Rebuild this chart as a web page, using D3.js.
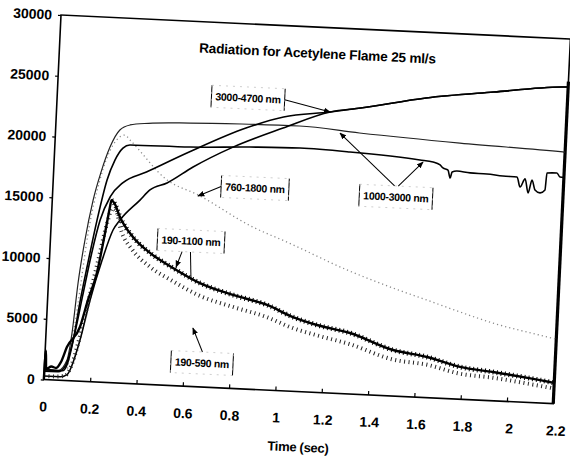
<!DOCTYPE html>
<html><head><meta charset="utf-8">
<script src="https://cdn.jsdelivr.net/npm/d3@7"></script>
<style>body{margin:0;background:#fff}svg{display:block}</style>
</head><body><svg id="c" width="570" height="464"></svg>
<script>
// ---- data (time in s, radiation) ----
const xTicks = [0,0.2,0.4,0.6,0.8,1,1.2,1.4,1.6,1.8,2,2.2];
const xTickLabels = ["0","0.2","0.4","0.6","0.8","1","1.2","1.4","1.6","1.8","2","2.2"];
const yTicks = [0,5000,10000,15000,20000,25000,30000];
const title = "Radiation for Acetylene Flame 25 ml/s";
const xTitle = "Time (sec)";

// 3000-4700 nm (two traces)
const ir3000a = [[0,700],[0.06,700],[0.09,1200],[0.12,3500],[0.15,7000],[0.18,10500],[0.21,13300],[0.25,15300],[0.30,16450],[0.40,17440],[0.58,19250],[0.82,21440],[0.98,22490],[1.18,23080],[1.31,23520],[1.59,24600],[1.88,25350],[2.17,26020],[2.2,26050]];
const ir3000b = [[0,300],[0.07,300],[0.099,500],[0.148,3400],[0.183,6700],[0.227,10040],[0.268,12550],[0.296,13400],[0.378,15110],[0.419,15980],[0.491,16620],[0.60,18030],[0.768,19820],[0.98,21580],[1.18,23080],[1.31,23520],[1.59,24600],[1.88,25350],[2.17,26020],[2.2,26050]];
// 1000-3000 nm (two traces)
const ir1000a = [[0,900],[0.06,800],[0.096,1700],[0.112,3900],[0.128,8060],[0.149,11620],[0.176,14930],[0.205,17300],[0.238,19350],[0.277,20790],[0.32,21240],[0.40,21450],[0.578,21630],[0.80,21750],[1.05,21810],[1.31,21470],[1.745,21030],[2.19,20700],[2.2,20690]];
const ir1000b = [[0,800],[0.08,800],[0.10,1500],[0.12,3500],[0.14,6500],[0.165,9600],[0.197,13300],[0.232,16640],[0.262,18300],[0.294,19315],[0.324,19600],[0.583,19660],[0.841,19890],[1.057,20000],[1.273,19870],[1.576,19490],[1.633,19370],[1.664,19160],[1.677,18920],[1.699,18770],[1.71,18120],[1.717,18620],[1.738,18720],[1.795,18620],[1.868,18600],[1.937,18490],[1.998,18470],[2.013,17650],[2.033,18340],[2.049,17200],[2.063,18280],[2.078,17470],[2.10,17250],[2.121,17510],[2.126,18910],[2.169,18950],[2.183,18630],[2.2,18600]];
// 760-1800 nm
const nir760 = [[0.10,1000],[0.13,6000],[0.16,12000],[0.20,16500],[0.25,19500],[0.30,20390],[0.323,20000],[0.49,16870],[0.627,15760],[0.87,13330],[1.02,12230],[1.284,10180],[1.486,8870],[1.635,8010],[1.78,7160],[1.924,6380],[2.16,5450],[2.2,5300]];
// 190-1100 nm
const uv1100 = [[0,0],[0.003,2400],[0.008,900],[0.03,1100],[0.05,1000],[0.07,1500],[0.093,2760],[0.145,4460],[0.174,6700],[0.207,8960],[0.234,12270],[0.25,14430],[0.255,15000],[0.27,14700],[0.295,13650],[0.355,12050],[0.432,10810],[0.534,9670],[0.653,8530],[0.798,7680],[0.947,6990],[1.061,6100],[1.166,5540],[1.31,5010],[1.499,3780],[1.647,3340],[1.791,2650],[1.934,2360],[2.18,1760],[2.2,1700]];
// 190-590 nm
const uv590 = [[0,300],[0.05,300],[0.09,400],[0.12,1500],[0.15,4000],[0.18,7000],[0.21,10000],[0.24,13000],[0.26,14300],[0.28,14000],[0.30,12700],[0.355,11000],[0.432,9700],[0.534,8600],[0.653,7500],[0.80,6700],[0.947,6000],[1.061,5200],[1.166,4700],[1.31,4100],[1.50,3000],[1.65,2700],[1.79,2100],[1.93,1900],[2.18,1300],[2.2,1250]];

// annotation labels: text, label centre (time, value), arrow targets (time, value), arrowhead flags
const notes = [
  {text:"3000-4700 nm", x:0.823, y:23910, from:[[1.0,0]], to:[[1.18,23080]], head:[true]},
  {text:"760-1800 nm",  x:0.871, y:16545, from:[[-1.0,0]], to:[[0.627,15675]], head:[true]},
  {text:"1000-3000 nm", x:1.48,  y:16356, from:[[-0.05,-1],[0.05,-1]], to:[[1.226,21386],[1.59,19330]], head:[true,true]},
  {text:"190-1100 nm",  x:0.606, y:11950, from:[[-0.25,1],[0.0,1]], to:[[0.547,9757],[0.614,8746]], head:[true,false]},
  {text:"190-590 nm",   x:0.678, y:1973,  from:[[0,-1]], to:[[0.632,4809]], head:[true]}
];

// ---- drawing ----
const W = 510, H = 365;
const svg = d3.select("#c");
const defs = svg.append("defs");
defs.append("marker").attr("id","ah").attr("viewBox","0 0 10 10").attr("refX",9).attr("refY",5)
  .attr("markerWidth",7).attr("markerHeight",7).attr("orient","auto-start-reverse")
  .append("path").attr("d","M0,1 L10,5 L0,9 Z").attr("fill","#000");

const g = svg.append("g").attr("transform","translate(61,15) rotate(2.7)");
const x = d3.scaleLinear().domain([0,2.2]).range([0,W]);
const y = d3.scaleLinear().domain([0,30000]).range([H,0]);
const font = "'Liberation Sans', Arial, sans-serif";

// axes
const yAxis = d3.axisLeft(y).tickValues(yTicks).tickSizeInner(3).tickSizeOuter(0).tickPadding(6).tickFormat(d3.format("d"));
const ya = g.append("g").call(yAxis);
ya.select(".domain").remove();
ya.selectAll("line").attr("stroke","#000").attr("stroke-width",1.2);
ya.selectAll("text").attr("font-family",font).attr("font-weight","bold").attr("font-size",14).attr("fill","#000");

const xAxis = d3.axisBottom(x).tickValues(xTicks).tickSizeInner(-4).tickSizeOuter(0).tickPadding(22)
  .tickFormat((d,i)=>xTickLabels[i]);
const xa = g.append("g").attr("transform",`translate(0,${H})`).call(xAxis);
xa.select(".domain").remove();
xa.selectAll("line").attr("stroke","#000").attr("stroke-width",1.2);
xa.selectAll("text").attr("font-family",font).attr("font-weight","bold").attr("font-size",14).attr("fill","#000")
  .attr("dx",d=>d*1.5);

// frame
g.append("rect").attr("x",0).attr("y",0).attr("width",W).attr("height",H)
  .attr("fill","none").attr("stroke","#000").attr("stroke-width",1.6);
g.append("line").attr("x1",W).attr("x2",W).attr("y1",y(26500)).attr("y2",H)
  .attr("stroke","#000").attr("stroke-width",3.2);

const line = d3.line().x(d=>x(d[0])).y(d=>y(d[1])).curve(d3.curveMonotoneX);

// curves
g.append("path").datum(nir760).attr("d",line).attr("fill","none").attr("stroke","#8a8a8a").attr("stroke-width",1.3).attr("stroke-dasharray","1.2,3");
g.append("path").datum(ir1000a).attr("d",line).attr("fill","none").attr("stroke","#222").attr("stroke-width",1.2);
g.append("path").datum(ir1000b).attr("d",line).attr("fill","none").attr("stroke","#000").attr("stroke-width",1.6);
g.append("path").datum(ir3000b).attr("d",line).attr("fill","none").attr("stroke","#000").attr("stroke-width",1.6);
g.append("path").datum(ir3000a).attr("d",line).attr("fill","none").attr("stroke","#000").attr("stroke-width",1.6);
g.append("path").datum(uv590).attr("d",line).attr("fill","none").attr("stroke","#222").attr("stroke-width",4).attr("stroke-dasharray","1,3.5");
g.append("path").datum(uv1100).attr("d",line).attr("fill","none").attr("stroke","#000").attr("stroke-width",2.4);
g.append("path").datum(uv1100.filter(d=>d[0]>0.25)).attr("d",line).attr("fill","none").attr("stroke","#000").attr("stroke-width",5).attr("stroke-dasharray","1,3");

// title
g.append("text").attr("x",258).attr("y",31).attr("text-anchor","middle")
  .attr("font-family",font).attr("font-weight","bold").attr("font-size",13.6).attr("letter-spacing",-0.2).text(title);
g.append("text").attr("x",257).attr("y",H+60).attr("text-anchor","middle")
  .attr("font-family",font).attr("font-weight","bold").attr("font-size",13).attr("letter-spacing",-0.3).text(xTitle);

// annotations
notes.forEach(n=>{
  const cx = x(n.x), cy = y(n.y);
  const t = g.append("text").attr("x",cx).attr("y",cy+3.8).attr("text-anchor","middle")
    .attr("font-family",font).attr("font-weight","bold").attr("font-size",10.5).attr("letter-spacing",-0.3).text(n.text);
  const bw = t.node().getComputedTextLength()+8, bh = 22;
  const bx = cx-bw/2, by = cy-bh/2;
  g.append("line").attr("x1",bx).attr("x2",bx).attr("y1",by).attr("y2",by+bh).attr("stroke","#000").attr("stroke-width",1);
  g.append("line").attr("x1",bx+bw).attr("x2",bx+bw).attr("y1",by).attr("y2",by+bh).attr("stroke","#000").attr("stroke-width",1);
  g.append("rect").attr("x",bx).attr("y",by).attr("width",bw).attr("height",bh).attr("fill","none")
    .attr("stroke","#bbb").attr("stroke-width",0.7).attr("stroke-dasharray","2,5");
  n.to.forEach((tp,i)=>{
    const f = n.from[i];
    const sx = cx + f[0]*bw/2, sy = cy + f[1]*bh/2;
    const l = g.append("line").attr("x1",sx).attr("y1",sy).attr("x2",x(tp[0])).attr("y2",y(tp[1]))
      .attr("stroke","#000").attr("stroke-width",1);
    if(n.head[i]) l.attr("marker-end","url(#ah)");
  });
});
</script></body></html>
